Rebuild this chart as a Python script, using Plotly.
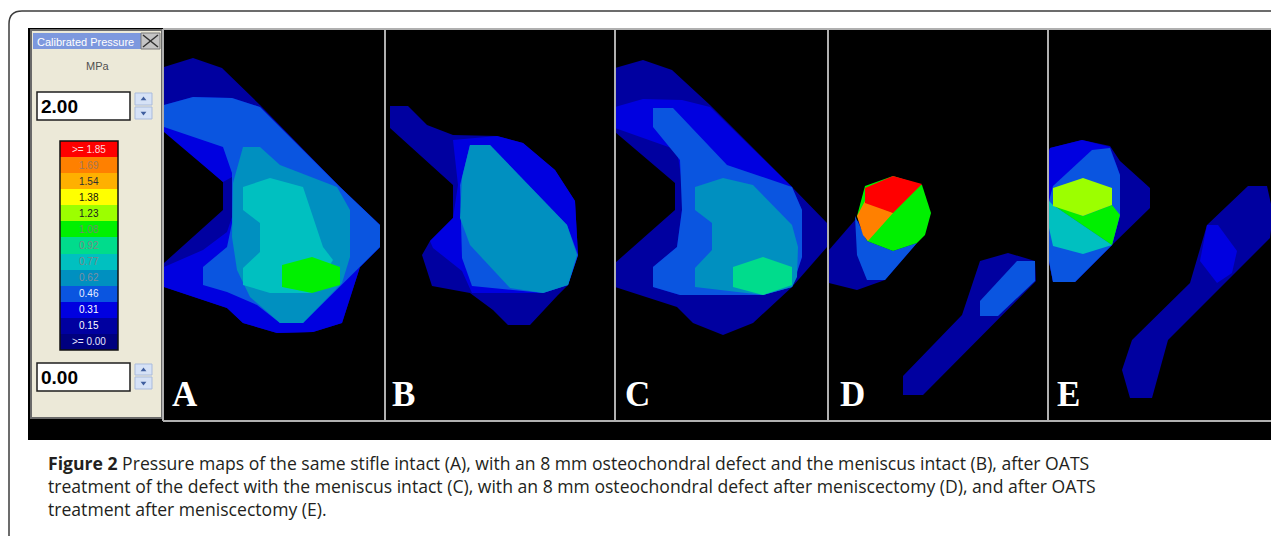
import plotly.graph_objects as go

# The page body keeps its default 8 px margin, so the figure starts at page pixel (8, 8);
# axis ranges are set so that data coordinates equal page pixel coordinates.
PAGE_OFFSET = 8
W, H = 1279 - PAGE_OFFSET, 536 - PAGE_OFFSET

# ---------------- pressure scale (MPa), legend bands from top to bottom ----------------
SCALE_LABELS = [">= 1.85", "1.69", "1.54", "1.38", "1.23", "1.08", "0.92",
                "0.77", "0.62", "0.46", "0.31", "0.15", ">= 0.00"]
SCALE_COLORS = ["#FF0000", "#FF8000", "#FFB000", "#FFFF00", "#9CFF00", "#00F000", "#00DC8C",
                "#00C0C0", "#0090C0", "#0A55E0", "#0000E0", "#0000A0", "#00007F"]
SCALE_TEXT_COLORS = ["#FFD8D8", "#A07858", "#303030", "#101010", "#202020", "#6E8A6E", "#7A8A84",
                     "#7A8888", "#7C8EA0", "#E8EEFF", "#FFFFFF", "#FFFFFF", "#E6E6FF"]
SCALE_MAX_TEXT = "2.00"
SCALE_MIN_TEXT = "0.00"
UNIT_TEXT = "MPa"
WINDOW_TITLE = "Calibrated Pressure"

PANEL_LETTERS = ["A", "B", "C", "D", "E"]

CAPTION_LINES = [
    "<b>Figure 2</b> Pressure maps of the same stifle intact (A), with an 8 mm osteochondral defect and the meniscus intact (B), after OATS",
    "treatment of the defect with the meniscus intact (C), with an 8 mm osteochondral defect after meniscectomy (D), and after OATS",
    "treatment after meniscectomy (E).",
]

# ---------------- contour polygons of each pressure map (level, x, y in image pixels) ----------------
MAP_A = [
    ("0.15", [164, 193, 222, 260, 340, 380, 380, 360, 342, 313, 277, 243, 227, 203, 164, 164, 223, 223, 164],
             [67, 58, 68, 105, 187, 225, 247, 267, 323, 332, 333, 323, 308, 300, 287, 263, 210, 182, 130]),
    ("0.31", [164, 193, 232, 260, 340, 380, 380, 360, 342, 313, 277, 243, 227, 203, 164, 164, 203, 227, 232, 232, 223, 164],
             [105, 97, 98, 107, 187, 225, 247, 267, 323, 332, 333, 323, 308, 300, 287, 267, 250, 232, 217, 177, 182, 132]),
    ("0.46", [164, 193, 232, 260, 340, 380, 380, 345, 303, 280, 257, 227, 203, 203, 227, 232, 232, 223, 164],
             [105, 97, 98, 107, 187, 225, 247, 282, 323, 323, 305, 292, 285, 267, 247, 223, 173, 147, 127]),
    ("0.62", [243, 260, 280, 337, 350, 350, 342, 303, 280, 250, 237, 232, 233],
             [147, 147, 165, 187, 210, 257, 283, 323, 323, 297, 270, 237, 183]),
    ("0.77", [243, 270, 303, 323, 333, 312, 270, 243, 243, 260, 260, 243],
             [187, 178, 187, 247, 260, 293, 293, 285, 268, 252, 223, 210]),
    ("1.08", [282, 312, 340, 340, 312, 282],
             [265, 257, 267, 285, 293, 287]),
]

MAP_B = [
    ("0.15", [390, 408, 427, 453, 497, 523, 555, 575, 578, 568, 558, 530, 508, 493, 470, 432, 422, 430, 453, 453, 390],
             [106, 106, 125, 135, 136, 143, 170, 201, 255, 285, 295, 325, 325, 310, 293, 286, 255, 241, 218, 185, 128]),
    ("0.31", [453, 497, 523, 555, 575, 578, 568, 543, 472, 462, 433, 430, 453, 458],
             [140, 136, 143, 170, 201, 255, 285, 293, 293, 271, 248, 241, 218, 185]),
    ("0.46", [470, 490, 567, 578, 568, 543, 472, 462, 460],
             [145, 145, 225, 255, 285, 293, 286, 258, 185]),
    ("0.62", [470, 490, 567, 577, 568, 543, 510, 470, 460, 462],
             [145, 145, 225, 255, 285, 293, 288, 245, 218, 178]),
]

MAP_C = [
    ("0.15", [615, 643, 672, 710, 792, 827, 827, 792, 753, 723, 693, 677, 615, 615, 675, 675, 615],
             [68, 60, 70, 105, 187, 223, 247, 287, 323, 335, 323, 307, 287, 263, 210, 183, 132]),
    ("0.31", [615, 643, 682, 710, 792, 802, 802, 792, 763, 680, 653, 653, 677, 682, 682, 677, 615],
             [107, 99, 100, 107, 187, 210, 257, 287, 295, 295, 287, 267, 247, 210, 183, 150, 128]),
    ("0.46", [653, 673, 727, 792, 802, 802, 792, 763, 680, 653, 653, 677, 682, 680, 653],
             [108, 108, 165, 187, 210, 257, 287, 295, 295, 287, 267, 247, 210, 160, 127]),
    ("0.62", [695, 723, 753, 792, 798, 797, 792, 763, 695, 695, 712, 712, 695],
             [187, 178, 185, 225, 247, 277, 287, 295, 287, 268, 250, 223, 210]),
    ("0.92", [733, 763, 792, 792, 763, 733],
             [267, 257, 267, 285, 295, 287]),
]

MAP_D = [
    ("0.15", [829, 855, 917, 885, 857, 829], [250, 220, 243, 280, 290, 283]),
    ("0.46", [855, 867, 893, 917, 885, 867, 857], [216, 241, 251, 243, 280, 280, 255]),
    ("1.08", [865, 893, 922, 931, 925, 917, 893, 867, 857], [186, 176, 185, 213, 235, 243, 251, 241, 216]),
    ("1.69", [857, 865, 893, 868, 863], [216, 201, 213, 241, 235]),
    (">= 1.85", [865, 893, 922, 893, 865], [188, 176, 184, 213, 203]),
    ("0.15", [903, 962, 980, 1008, 1035, 1036, 923, 903], [376, 315, 261, 253, 261, 281, 395, 395]),
    ("0.46", [980, 1017, 1035, 1035, 998, 980], [301, 261, 261, 281, 316, 316]),
]

MAP_E = [
    ("0.15", [1050, 1082, 1110, 1120, 1150, 1150, 1112, 1075, 1053, 1049, 1049],
             [148, 140, 146, 161, 188, 208, 245, 282, 282, 261, 151]),
    ("0.31", [1049, 1050, 1082, 1110, 1120, 1120, 1112, 1075, 1053, 1049],
             [151, 148, 140, 147, 175, 215, 245, 282, 282, 261]),
    ("0.46", [1092, 1110, 1120, 1120, 1112, 1075, 1053, 1049, 1049, 1053],
             [150, 148, 175, 215, 245, 282, 282, 261, 201, 186]),
    ("0.77", [1049, 1053, 1112, 1083, 1053, 1049], [201, 205, 245, 254, 246, 228]),
    ("1.08", [1053, 1083, 1112, 1120, 1112], [205, 216, 205, 215, 245]),
    ("1.23", [1053, 1083, 1112, 1112, 1083, 1053], [188, 178, 188, 205, 216, 206]),
    ("0.15", [1248, 1267, 1273, 1270, 1168, 1152, 1130, 1122, 1132, 1190, 1207],
             [186, 186, 213, 238, 340, 398, 398, 370, 340, 283, 225]),
    ("0.31", [1207, 1218, 1237, 1232, 1217, 1200], [225, 225, 251, 273, 283, 261]),
]

MAPS = [MAP_A, MAP_B, MAP_C, MAP_D, MAP_E]

# ---------------- layout geometry (pixels) ----------------
BLACK_BOX = (28, 28, 1276, 440)
FRAME_X = [163, 385, 615, 828, 1048, 1274]
FRAME_Y = (29, 421)
LETTER_X = [185, 403, 637, 852, 1068]
LETTER_Y = 394
PANEL_BOX = (31, 30, 162, 418)
BAR_BOX = (60, 141, 118, 350)

level_color = dict(zip(SCALE_LABELS, SCALE_COLORS))

fig = go.Figure()

# colour scale bands of the legend window
n = len(SCALE_LABELS)
band_h = (BAR_BOX[3] - BAR_BOX[1]) / n
bar_x = (BAR_BOX[0] + BAR_BOX[2]) / 2
fig.add_trace(go.Bar(
    x=[bar_x] * n, y=[band_h] * n,
    base=[BAR_BOX[1] + i * band_h for i in range(n)],
    width=BAR_BOX[2] - BAR_BOX[0],
    marker=dict(color=SCALE_COLORS, line=dict(width=0)),
    hoverinfo="skip", showlegend=False,
))

# pressure maps
for panel in MAPS:
    for level, xs, ys in panel:
        fig.add_trace(go.Scatter(
            x=xs, y=ys, mode="lines", fill="toself",
            fillcolor=level_color[level], line=dict(width=0, color=level_color[level]),
            hoverinfo="skip", showlegend=False,
        ))

shapes = []
# black photo background
shapes.append(dict(type="rect", layer="below", x0=BLACK_BOX[0], y0=BLACK_BOX[1], x1=BLACK_BOX[2], y1=BLACK_BOX[3],
                   fillcolor="black", line=dict(width=0)))
# legend window
shapes.append(dict(type="rect", layer="below", x0=PANEL_BOX[0], y0=PANEL_BOX[1], x1=PANEL_BOX[2], y1=PANEL_BOX[3],
                   fillcolor="#ECE9D8", line=dict(color="#6A6A6A", width=2)))
shapes.append(dict(type="rect", layer="below", x0=33, y0=33, x1=141, y1=49,
                   fillcolor="#7D98DE", line=dict(width=0)))
shapes.append(dict(type="rect", layer="below", x0=141, y0=33, x1=160, y1=49,
                   fillcolor="#C4C4C4", line=dict(color="#7A7A7A", width=1)))
shapes.append(dict(type="line", layer="above", x0=143, y0=35, x1=158, y1=47, line=dict(color="#303030", width=1.5)))
shapes.append(dict(type="line", layer="above", x0=143, y0=47, x1=158, y1=35, line=dict(color="#303030", width=1.5)))
for (y0, y1) in [(92, 120), (363, 391)]:
    shapes.append(dict(type="rect", layer="below", x0=37, y0=y0, x1=130, y1=y1,
                       fillcolor="white", line=dict(color="#1E1E1E", width=1.5)))
for (y0, y1) in [(93, 105), (107, 119), (364, 375), (377, 389)]:
    shapes.append(dict(type="rect", layer="below", x0=135, y0=y0, x1=152, y1=y1,
                       fillcolor="#D6E2F6", line=dict(color="#A9BBDD", width=1)))
shapes.append(dict(type="rect", layer="above", x0=BAR_BOX[0], y0=BAR_BOX[1], x1=BAR_BOX[2], y1=BAR_BOX[3],
                   fillcolor="rgba(0,0,0,0)", line=dict(color="#101010", width=1.5)))
# gray frames of the map panels
for fx in FRAME_X:
    shapes.append(dict(type="line", layer="above", x0=fx, y0=FRAME_Y[0], x1=fx, y1=FRAME_Y[1],
                       line=dict(color="#B0B0B0", width=2)))
for fy in FRAME_Y:
    shapes.append(dict(type="line", layer="above", x0=FRAME_X[0], y0=fy, x1=FRAME_X[-1], y1=fy,
                       line=dict(color="#B0B0B0", width=2)))
# outer rounded figure border
shapes.append(dict(type="path", layer="above", path="M 9 540 L 9 24 Q 9 11 22 11 L 1282 11",
                   line=dict(color="#3C3C3C", width=1.5)))

# spin button arrows
fig.add_trace(go.Scatter(
    x=[143.5, 143.5, 143.5, 143.5], y=[99, 113, 370, 383], mode="markers",
    marker=dict(symbol=["triangle-up", "triangle-down", "triangle-up", "triangle-down"],
                size=5, color="#3F5E9E"),
    hoverinfo="skip", showlegend=False,
))

ann = []
ann.append(dict(x=35, y=41.5, text=WINDOW_TITLE, xanchor="left", yanchor="middle", showarrow=False,
                font=dict(family="Liberation Sans, Arial", size=11, color="white")))
ann.append(dict(x=98, y=66, text=UNIT_TEXT, xanchor="center", yanchor="middle", showarrow=False,
                font=dict(family="Liberation Sans, Arial", size=11, color="#505050")))
ann.append(dict(x=39, y=106.5, text="<b>" + SCALE_MAX_TEXT + "</b>", xanchor="left", yanchor="middle", showarrow=False,
                font=dict(family="Liberation Sans, Arial", size=19, color="black")))
ann.append(dict(x=39, y=377.5, text="<b>" + SCALE_MIN_TEXT + "</b>", xanchor="left", yanchor="middle", showarrow=False,
                font=dict(family="Liberation Sans, Arial", size=19, color="black")))
for i, (lab, tc) in enumerate(zip(SCALE_LABELS, SCALE_TEXT_COLORS)):
    ann.append(dict(x=bar_x, y=BAR_BOX[1] + (i + 0.5) * band_h, text=lab, xanchor="center", yanchor="middle",
                    showarrow=False, font=dict(family="Liberation Sans, Arial", size=10, color=tc)))
for lx, letter in zip(LETTER_X, PANEL_LETTERS):
    ann.append(dict(x=lx, y=LETTER_Y, text="<b>" + letter + "</b>", xanchor="center", yanchor="middle",
                    showarrow=False, font=dict(family="Liberation Serif, Times New Roman", size=35, color="white")))
for k, line in enumerate(CAPTION_LINES):
    ann.append(dict(x=46, y=463 + 23 * k, text=line, xanchor="left", yanchor="middle", showarrow=False,
                    font=dict(family="Open Sans", size=17.6, color="#231F20")))

fig.update_layout(
    width=W, height=H, margin=dict(l=0, r=0, t=0, b=0),
    paper_bgcolor="white", plot_bgcolor="white",
    xaxis=dict(range=[PAGE_OFFSET, PAGE_OFFSET + W], visible=False, fixedrange=True),
    yaxis=dict(range=[PAGE_OFFSET + H, PAGE_OFFSET], visible=False, fixedrange=True),
    shapes=shapes, annotations=ann, showlegend=False, bargap=0,
)

fig.write_html("out.html", config={"displayModeBar": False, "staticPlot": True})
